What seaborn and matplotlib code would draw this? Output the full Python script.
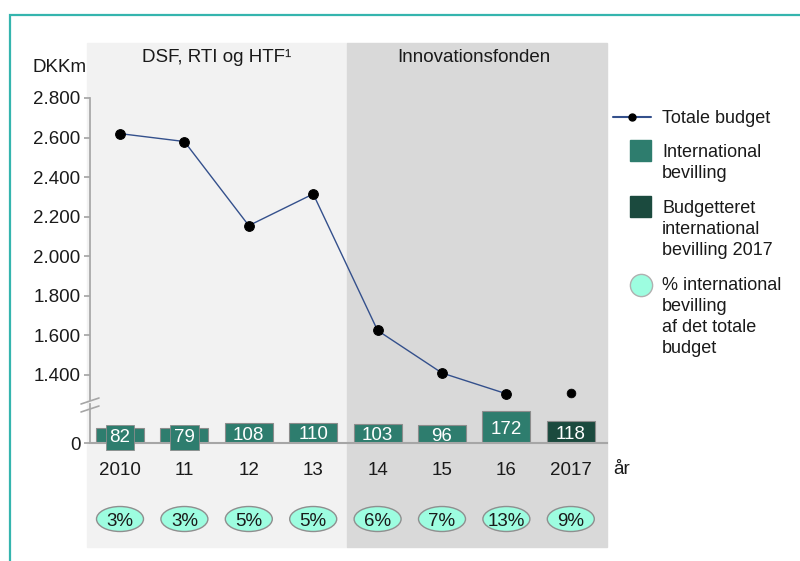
import numpy as np
import pandas as pd
import matplotlib
matplotlib.use('Agg')
import matplotlib.pyplot as plt
import matplotlib.transforms as mtransforms
import seaborn as sns
from matplotlib.patches import Rectangle, Ellipse
from matplotlib.lines import Line2D

# data
years = ['2010', '11', '12', '13', '14', '15', '16', '2017']
total_budget = [2620, 2580, 2155, 2315, 1625, 1410, 1305, 1308]
intl_grant = [82, 79, 108, 110, 103, 96, 172, 118]
pct_labels = ['3%', '3%', '5%', '5%', '6%', '7%', '13%', '9%']
bar_kind = ['International bevilling'] * 7 + ['Budgetteret international bevilling 2017']
y_ticks = [1400, 1600, 1800, 2000, 2200, 2400, 2600, 2800]

c_bar = '#2e7d6e'
c_bar17 = '#1b4a3e'
c_line = '#34508c'
c_pct = '#9dfde0'
c_txt = '#1a1a1a'
fs = 13.5

sns.set_theme(style='white')
plt.rcParams['font.family'] = ['Liberation Sans', 'DejaVu Sans']

W, H = 800, 561
fig = plt.figure(figsize=(8, 5.61), dpi=100)


def fx(px):
    return px / W


def fy(py):
    return 1 - py / H


# shaded backgrounds + teal frame (behind the axes)
fig.patches.append(Rectangle((fx(87), fy(547)), fx(347 - 87), (547 - 43) / H,
                             transform=fig.transFigure, color='#f2f2f2', zorder=-2))
fig.patches.append(Rectangle((fx(347), fy(547)), fx(607 - 347), (547 - 43) / H,
                             transform=fig.transFigure, color='#d9d9d9', zorder=-2))
fig.patches.append(Rectangle((fx(10), fy(600)), fx(900), 600 / H - 15 / H,
                             transform=fig.transFigure, fill=False,
                             edgecolor='#35b5ae', lw=1.6, zorder=-2))

k = 277 / 1400  # px per DKKm (upper part)
ax_top = fig.add_axes([fx(90), fy(400), fx(517), (400 - 98) / H])
ax_bot = fig.add_axes([fx(90), fy(443), fx(517), (443 - 404) / H], sharex=ax_top)
for a in (ax_top, ax_bot):
    a.set_facecolor('none')
    for s in a.spines.values():
        s.set_visible(False)

xlim = (-30 / 64.4, 487 / 64.4)

# line: totale budget
df_line = pd.DataFrame({'pos': np.arange(7), 'total': total_budget[:7]})
sns.lineplot(data=df_line, x='pos', y='total', ax=ax_top, color=c_line, lw=1,
             marker='o', markersize=7, markerfacecolor='black',
             markeredgecolor='black')
sns.scatterplot(x=[7], y=[total_budget[7]], ax=ax_top, color='black', s=40,
                edgecolor='black')
ax_top.set_ylim(1400 - 25 / k, 2800)
ax_top.set_yticks(y_ticks)
ax_top.set_yticklabels([f'{v:,}'.replace(',', '.') for v in y_ticks])
ax_top.spines['left'].set_visible(True)
ax_top.spines['left'].set_color('#a6a6a6')
ax_top.tick_params(axis='y', left=True, length=4, color='#a6a6a6', labelsize=fs,
                   pad=3, labelcolor=c_txt)
ax_top.tick_params(axis='x', bottom=False, labelbottom=False)
ax_top.set_xlabel('')
ax_top.set_ylabel('')

# bars: international bevilling
df_bar = pd.DataFrame({'year': years, 'intl': intl_grant, 'kind': bar_kind})
sns.barplot(data=df_bar, x='year', y='intl', hue='kind', ax=ax_bot,
            palette=[c_bar, c_bar17], dodge=False, width=0.745, legend=False,
            saturation=1, linewidth=0.8, edgecolor='#8c8c8c')
ax_bot.set_xlim(*xlim)
ax_bot.set_ylim(0, 39 / 0.185)
ax_bot.set_yticks([0])
ax_bot.set_yticklabels(['0'])
ax_bot.spines['left'].set_visible(True)
ax_bot.spines['left'].set_color('#a6a6a6')
ax_bot.spines['bottom'].set_visible(True)
ax_bot.spines['bottom'].set_color('#a6a6a6')
ax_bot.spines['bottom'].set_linewidth(1.5)
ax_bot.tick_params(axis='y', left=True, length=4, color='#a6a6a6', labelsize=fs,
                   pad=3, labelcolor=c_txt)
ax_bot.tick_params(axis='x', bottom=False, labelsize=fs, pad=7.5, labelcolor=c_txt)
ax_bot.set_xlabel('')
ax_bot.set_ylabel('')

for i, v in enumerate(intl_grant):
    fc = c_bar17 if i == 7 else c_bar
    box = None
    if v < 90:  # label box sticks out of the short bars
        box = dict(boxstyle='square,pad=0.2', fc=fc, ec='#8c8c8c', lw=0.6)
    ax_bot.text(i, v / 2, str(v), ha='center', va='center_baseline', color='white',
                fontsize=fs, bbox=box, zorder=5, clip_on=False)

# percent ellipses below the year labels
blend = mtransforms.blended_transform_factory(ax_bot.transData, fig.transFigure)
for i, p in enumerate(pct_labels):
    ax_bot.add_patch(Ellipse((i, fy(519)), 47 / 64.4, 25 / H, transform=blend,
                             fc=c_pct, ec='#8f8f8f', lw=1, clip_on=False))
    ax_bot.text(i, fy(519), p, transform=blend, ha='center', va='center_baseline',
                fontsize=fs, color=c_txt)

# axis break marks
for yb in (401, 409):
    fig.add_artist(Line2D([fx(81), fx(99)], [fy(yb + 3), fy(yb - 3)],
                          transform=fig.transFigure, color='#a6a6a6', lw=1.2))

# texts
fig.text(fx(217), fy(58), 'DSF, RTI og HTF¹', ha='center', va='center', fontsize=fs,
         color=c_txt)
fig.text(fx(474), fy(58), 'Innovationsfonden', ha='center', va='center', fontsize=fs,
         color=c_txt)
fig.text(fx(33), fy(68), 'DKKm', ha='left', va='center', fontsize=fs, color=c_txt)
fig.text(fx(613), fy(470), 'år', ha='left', va='center', fontsize=fs, color=c_txt)

# legend (handles aligned with the first line of each label)
fig.add_artist(Line2D([fx(613), fx(651)], [fy(117)] * 2, transform=fig.transFigure,
                      color=c_line, lw=1.5))
fig.add_artist(Line2D([fx(632)], [fy(117)], transform=fig.transFigure, marker='o',
                      ms=5, color='black', lw=0))
fig.patches.append(Rectangle((fx(630), fy(161)), fx(21), 21 / H,
                             transform=fig.transFigure, color=c_bar))
fig.patches.append(Rectangle((fx(630), fy(217)), fx(21), 21 / H,
                             transform=fig.transFigure, color=c_bar17))
fig.add_artist(Line2D([fx(641)], [fy(285)], transform=fig.transFigure, marker='o',
                      ms=16, markerfacecolor=c_pct, markeredgecolor='#b0b0b0', lw=0))

legend_items = [
    (119, 'Totale budget'),
    (153, 'International\nbevilling'),
    (209, 'Budgetteret\ninternational\nbevilling 2017'),
    (286, '% international\nbevilling\naf det totale\nbudget'),
]
for yy, lab in legend_items:
    fig.text(fx(662), fy(yy - 9), lab, ha='left', va='top', fontsize=13,
             linespacing=1.3, color=c_txt)

fig.savefig('out.png', dpi=100)
